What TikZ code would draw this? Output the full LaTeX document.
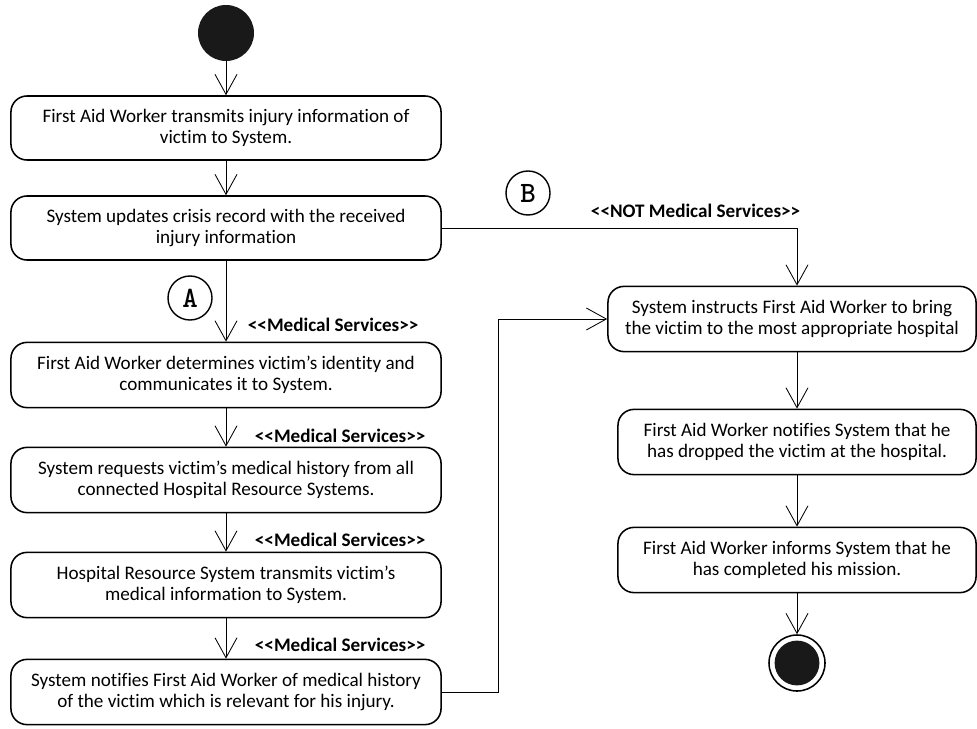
\documentclass[tikz,border=0pt]{standalone}
\usepackage{fontspec}
\newfontfamily\diagfont{Carlito}[Ligatures=NoCommon]
\newfontfamily\markfont{lmmonolt10-bold.otf}
\usetikzlibrary{positioning}
\usetikzlibrary{arrows.meta}

\tikzset{
  action/.style = {shape=rectangle, draw, line width=1.1pt, rounded corners=0.4cm,
    align=center, minimum width=10.75cm, minimum height=1.63cm,
    font=\diagfont\fontsize{13.6}{15.1}\selectfont},
  raction/.style = {action, minimum width=8.95cm},
  flow/.style = {line width=0.6pt, -{Straight Barb[length=0.5cm, width=0.55cm, line width=0.6pt]}},
  guard/.style = {anchor=west, font=\diagfont\bfseries\fontsize{13.6}{15}\selectfont},
  marker/.style = {shape=circle, draw, line width=1pt, minimum size=1.1cm, inner sep=0pt,
    font=\markfont\fontsize{21}{21}\selectfont},
}

\begin{document}
\begin{tikzpicture}[x=0.025cm, y=-0.025cm]
  \useasboundingbox (0,0) rectangle (977,728);
  \node (start) [shape=circle, fill=black!90, minimum size=1.4cm, inner sep=0pt] at (226,33) {};

  % left column
  \node (transmit) [action, minimum height=1.6cm] at (226,128) {First Aid Worker transmits injury information of\\victim to System.};
  \node (update) [action, minimum height=1.6cm] at (226,228) {System updates crisis record with the received\\injury information};
  \node (identity) [action] at (226,375) {First Aid Worker determines victim’s identity and\\communicates it to System.};
  \node (request) [action] at (226,480) {System requests victim’s medical history from all\\connected Hospital Resource Systems.};
  \node (history) [action] at (226,585) {Hospital Resource System transmits victim’s\\medical information to System.};
  \node (notify) [action] at (226,692) {System notifies First Aid Worker of medical history\\of the victim which is relevant for his injury.};

  % right column
  \coordinate (col) at (797,0);
  \node (instruct) [raction, minimum width=9.2cm] at (792,319) {System instructs First Aid Worker to bring\\the victim to the most appropriate hospital};
  \node (dropped) [raction] at (797,442) {First Aid Worker notifies System that he\\has dropped the victim at the hospital.};
  \node (mission) [raction] at (797,560) {First Aid Worker informs System that he\\has completed his mission.};
  \node (final) [shape=circle, draw, line width=1.1pt, minimum size=1.4cm, inner sep=0pt] at (797,663) {};
  \node (finaldot) [shape=circle, fill=black!90, minimum size=1.12cm, inner sep=0pt] at (final) {};

  % markers and guards
  \node (markA) [marker] at (190,298) {A};
  \node (markB) [marker] at (528,193) {B};
  \node (gnot) [guard] at (586,211) {<<NOT Medical Services>>};
  \node (g1) [guard] at (243,325) {<<Medical Services>>};
  \node (g2) [guard] at (250,436) {<<Medical Services>>};
  \node (g3) [guard] at (250,540) {<<Medical Services>>};
  \node (g4) [guard] at (250,645) {<<Medical Services>>};

  % flows
  \draw [flow] (start) -- (transmit);
  \draw [flow] (transmit) -- (update);
  \draw [flow] (update) -- (identity);
  \draw [flow] (identity) -- (request);
  \draw [flow] (request) -- (history);
  \draw [flow] (history) -- (notify);
  \draw [flow] (update.east) -| (instruct.north -| col);
  \draw [flow] (notify.east) -- ++(57,0) |- (instruct.west);
  \draw [flow] (instruct.south -| col) -- (dropped);
  \draw [flow] (dropped) -- (mission);
  \draw [flow] (mission) -- (final);
\end{tikzpicture}
\end{document}
